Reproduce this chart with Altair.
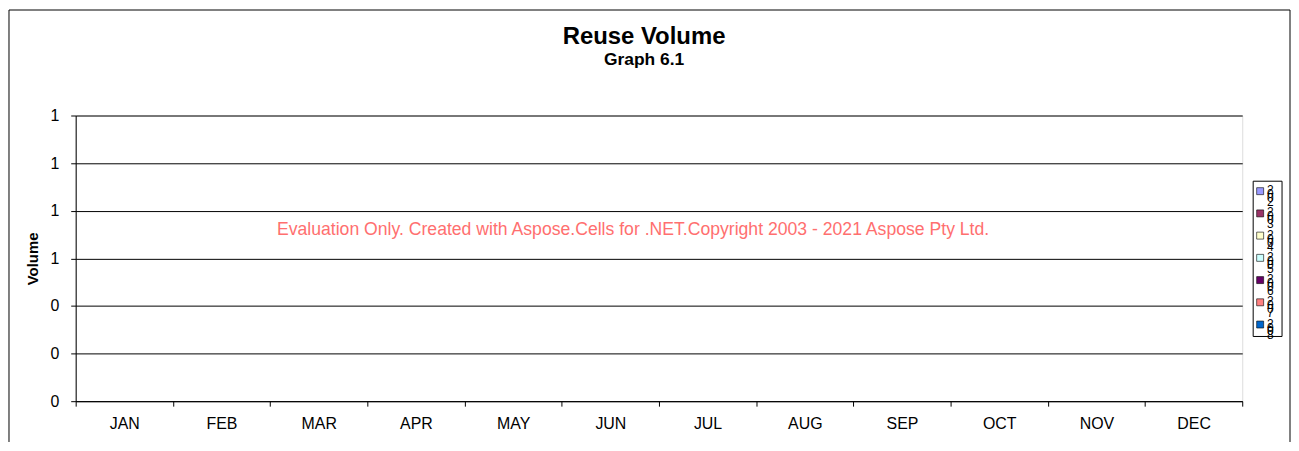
import altair as alt
import pandas as pd

# ---------------- data ----------------
months = ["JAN", "FEB", "MAR", "APR", "MAY", "JUN",
          "JUL", "AUG", "SEP", "OCT", "NOV", "DEC"]
series = ["2002", "2003", "2004", "2005", "2006", "2007", "2008"]
series_colors = ["#9999FF", "#993366", "#FFFFCC", "#CCFFFF",
                 "#660066", "#FF8080", "#0066CC"]

vol_2002 = [0, 0, 0, 0, 0, 0, 0, 0, 0, 0, 0, 0]
vol_2003 = [0, 0, 0, 0, 0, 0, 0, 0, 0, 0, 0, 0]
vol_2004 = [0, 0, 0, 0, 0, 0, 0, 0, 0, 0, 0, 0]
vol_2005 = [0, 0, 0, 0, 0, 0, 0, 0, 0, 0, 0, 0]
vol_2006 = [0, 0, 0, 0, 0, 0, 0, 0, 0, 0, 0, 0]
vol_2007 = [0, 0, 0, 0, 0, 0, 0, 0, 0, 0, 0, 0]
vol_2008 = [0, 0, 0, 0, 0, 0, 0, 0, 0, 0, 0, 0]

y_ticks = [0, 0.2, 0.4, 0.6, 0.8, 1.0, 1.2]
watermark = "Evaluation Only. Created with Aspose.Cells for .NET.Copyright 2003 - 2021 Aspose Pty Ltd."

# ---------------- tables ----------------
all_vols = [vol_2002, vol_2003, vol_2004, vol_2005, vol_2006, vol_2007, vol_2008]
rows = []
for s, vals in zip(series, all_vols):
    for m, v in zip(months, vals):
        rows.append({"month": m, "series": s, "volume": v})
df = pd.DataFrame(rows)

leg_df = pd.DataFrame({
    "series": series,
    "stacked": ["\n".join(list(s)) for s in series],
})

FONT = "Liberation Sans"
W, H = 1172, 287

color_scale = alt.Scale(domain=series, range=series_colors)

bars = alt.Chart(df).mark_bar().encode(
    x=alt.X("month:N", sort=months,
            scale=alt.Scale(paddingInner=0, paddingOuter=0),
            axis=alt.Axis(title=None, labelAngle=0, tickBand="extent",
                          labelFontSize=16, labelFont=FONT, labelColor="black",
                          labelPadding=9, tickSize=5, tickColor="black",
                          domainColor="black", grid=False)),
    xOffset=alt.XOffset("series:N", sort=series,
                        scale=alt.Scale(paddingInner=0, paddingOuter=0.2)),
    y=alt.Y("volume:Q",
            scale=alt.Scale(domain=[0, 1.2], nice=False, zero=True),
            axis=alt.Axis(values=y_ticks, format=".0f", title="Volume",
                          titleFont=FONT, titleFontSize=15, titleFontWeight="bold",
                          titleColor="black", titleX=-43, titleY=H / 2,
                          titleAngle=270, titleAlign="center", titleBaseline="middle",
                          labelFontSize=16, labelFont=FONT, labelColor="black",
                          labelPadding=12, tickSize=5, tickColor="black",
                          domainColor="black", gridColor="black", gridWidth=1)),
    color=alt.Color("series:N", scale=color_scale, legend=None),
)

wm = alt.Chart(pd.DataFrame({"t": [watermark]})).mark_text(
    font=FONT, fontSize=17.7, color="#FF6F6F", align="center", baseline="middle"
).encode(text="t:N", x=alt.value(560), y=alt.value(115))

# manual legend (Excel-style narrow legend with wrapped labels)
leg_box = alt.Chart(pd.DataFrame({"a": [0]})).mark_rect(
    fill="white", stroke="black", strokeWidth=1
).encode(x=alt.value(1183), x2=alt.value(1212), y=alt.value(66), y2=alt.value(222))

leg_y = alt.Y("series:N", sort=series,
              scale=alt.Scale(domain=series, range=[76, 210], padding=0),
              axis=None)

leg_sq = alt.Chart(leg_df).mark_square(
    size=49, opacity=1, filled=True, stroke="black", strokeWidth=0.6
).encode(x=alt.value(1190), y=leg_y,
         color=alt.Color("series:N", scale=color_scale, legend=None))

leg_txt = alt.Chart(leg_df).mark_text(
    font=FONT, fontSize=12, align="left", baseline="top",
    lineBreak="\n", lineHeight=4, dy=-6, color="black"
).encode(x=alt.value(1197), y=leg_y, text="stacked:N")

# outer chart frame (left, top, right edges)
fr = pd.DataFrame({"a": [0]})
frame_top = alt.Chart(fr).mark_rule(color="black", strokeWidth=1).encode(
    x=alt.value(-67), x2=alt.value(1220), y=alt.value(-106))
frame_left = alt.Chart(fr).mark_rule(color="black", strokeWidth=1).encode(
    x=alt.value(-67), y=alt.value(-106), y2=alt.value(328))
frame_right = alt.Chart(fr).mark_rule(color="black", strokeWidth=1).encode(
    x=alt.value(1220), y=alt.value(-106), y2=alt.value(328))

chart = alt.layer(
    bars, wm, leg_box, leg_sq, leg_txt, frame_top, frame_left, frame_right
).resolve_scale(
    y="independent"
).properties(
    width=W, height=H, padding=0,
    title=alt.Title("Reuse Volume", subtitle="Graph 6.1",
                    font=FONT, fontSize=24, fontWeight="bold", color="black",
                    subtitleFont=FONT, subtitleFontSize=17.5,
                    subtitleFontWeight="bold", subtitleColor="black",
                    subtitlePadding=2, anchor="middle", frame="group",
                    offset=-59, dx=-15),
).configure_view(
    stroke="#808080", strokeWidth=1
).configure(background="white")

chart.save("out.html", embed_options={"renderer": "svg", "actions": False})
